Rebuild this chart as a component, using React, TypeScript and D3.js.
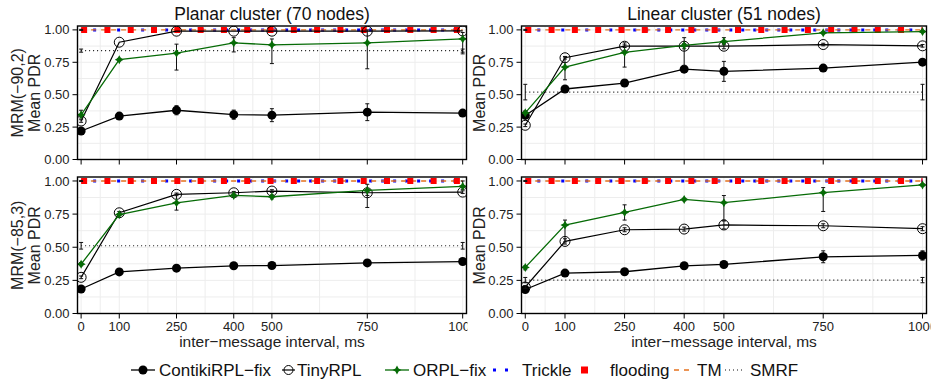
import { useEffect, useRef } from "react";
import * as d3 from "d3";

// ---- data ----
const intervals = [0, 100, 250, 400, 500, 750, 1000];
const xTicks = [0, 100, 250, 400, 500, 750, 1000];
const yTicks = [0, 0.25, 0.5, 0.75, 1];
const colTitles = ["Planar cluster (70 nodes)", "Linear cluster (51 nodes)"];
const rowLabels = ["MRM(\u221290,2)", "MRM(\u221285,3)"];
const seriesNames = ["ContikiRPL\u2212fix", "TinyRPL", "ORPL\u2212fix", "Trickle", "flooding", "TM", "SMRF"];

// planar, MRM(-90,2)
const planar90Contiki = [0.22, 0.335, 0.38, 0.346, 0.342, 0.365, 0.358];
const planar90ContikiErr = [0.01, 0.01, 0.035, 0.035, 0.05, 0.065, 0.01];
const planar90Tiny = [0.297, 0.905, 0.99, 0.99, 0.99, 0.99, 0.992];
const planar90TinyErr = [0.01, 0, 0, 0, 0, 0, 0];
const planar90Orpl = [0.345, 0.77, 0.82, 0.9, 0.885, 0.9, 0.93];
const planar90OrplLo = [0.32, 0.76, 0.69, 0.83, 0.74, 0.7, 0.815];
const planar90OrplHi = [0.38, 0.78, 0.89, 0.94, 0.93, 1.0, 0.98];

// linear, MRM(-90,2)
const linear90Contiki = [0.34, 0.544, 0.59, 0.697, 0.68, 0.705, 0.751];
const linear90ContikiErr = [0.01, 0.01, 0.01, 0.025, 0.077, 0.025, 0.02];
const linear90Tiny = [0.264, 0.785, 0.874, 0.874, 0.874, 0.887, 0.877];
const linear90TinyErr = [0.01, 0.01, 0.01, 0.02, 0.02, 0.01, 0.01];
const linear90Orpl = [0.36, 0.713, 0.826, 0.88, 0.91, 0.977, 0.987];
const linear90OrplLo = [0.345, 0.615, 0.713, 0.726, 0.885, 0.97, 0.98];
const linear90OrplHi = [0.375, 0.79, 0.9, 0.94, 0.94, 0.985, 0.995];

// planar, MRM(-85,3)
const planar85Contiki = [0.185, 0.314, 0.342, 0.36, 0.362, 0.382, 0.392];
const planar85ContikiErr = [0.01, 0.01, 0.01, 0.01, 0.01, 0.01, 0.01];
const planar85Tiny = [0.273, 0.76, 0.899, 0.911, 0.924, 0.911, 0.916];
const planar85TinyErr = [0.01, 0.01, 0.01, 0.01, 0.01, 0.02, 0.01];
const planar85Orpl = [0.372, 0.747, 0.835, 0.891, 0.881, 0.929, 0.96];
const planar85OrplLo = [0.36, 0.74, 0.78, 0.88, 0.865, 0.8, 0.937];
const planar85OrplHi = [0.385, 0.755, 0.9, 0.9, 0.895, 0.975, 1.0];

// linear, MRM(-85,3)
const linear85Contiki = [0.181, 0.305, 0.315, 0.36, 0.37, 0.428, 0.438];
const linear85ContikiErr = [0.01, 0.01, 0.01, 0.01, 0.01, 0.045, 0.035];
const linear85Tiny = [0.2, 0.544, 0.632, 0.637, 0.668, 0.662, 0.64];
const linear85TinyErr = [0.01, 0.02, 0.015, 0.015, 0.03, 0.015, 0.015];
const linear85Orpl = [0.348, 0.667, 0.763, 0.861, 0.836, 0.912, 0.97];
const linear85OrplLo = [0.33, 0.54, 0.705, 0.85, 0.705, 0.77, 0.96];
const linear85OrplHi = [0.36, 0.705, 0.82, 0.87, 0.89, 0.95, 0.98];

// flat reference protocols, one value per panel (TL, TR, BL, BR)
const trickleLevel = [1, 1, 1, 1];
const floodingLevel = [1, 1, 1, 1];
const tmLevel = [1, 1, 1, 1];
const smrfLevel = [0.84, 0.52, 0.511, 0.252];
const smrfErr = [0.012, 0.06, 0.025, 0.02];

const FONT = "'Liberation Sans', Arial, Helvetica, sans-serif";
const GREEN = "#066b06";
const ORANGE = "#e6731f";

export default function App ()
{
    const svgRef = useRef<SVGSVGElement>( null );

    useEffect( () =>
    {
        if ( !svgRef.current ) return;
        const svg = d3.select( svgRef.current );
        svg.selectAll( "*" ).remove();

        const cols = [ { x0: 77.5, x1: 466.5 }, { x0: 521.5, x1: 926.5 } ];
        const rows = [ { y0: 26, y1: 159.5 }, { y0: 177, y1: 313.5 } ];

        const panels = [
            { col: 0, row: 0, contiki: planar90Contiki, contikiErr: planar90ContikiErr, tiny: planar90Tiny, tinyErr: planar90TinyErr, orpl: planar90Orpl, lo: planar90OrplLo, hi: planar90OrplHi },
            { col: 1, row: 0, contiki: linear90Contiki, contikiErr: linear90ContikiErr, tiny: linear90Tiny, tinyErr: linear90TinyErr, orpl: linear90Orpl, lo: linear90OrplLo, hi: linear90OrplHi },
            { col: 0, row: 1, contiki: planar85Contiki, contikiErr: planar85ContikiErr, tiny: planar85Tiny, tinyErr: planar85TinyErr, orpl: planar85Orpl, lo: planar85OrplLo, hi: planar85OrplHi },
            { col: 1, row: 1, contiki: linear85Contiki, contikiErr: linear85ContikiErr, tiny: linear85Tiny, tinyErr: linear85TinyErr, orpl: linear85Orpl, lo: linear85OrplLo, hi: linear85OrplHi },
        ];

        const defs = svg.append( "defs" );
        const star = ( r: number ) =>
        {
            const i = r * 0.36;
            return `M0,${ -r }L${ i },${ -i }L${ r },0L${ i },${ i }L0,${ r }L${ -i },${ i }L${ -r },0L${ -i },${ -i }Z`;
        };

        panels.forEach( ( p, pi ) =>
        {
            const c = cols[ p.col ], r = rows[ p.row ];
            const x = d3.scaleLinear().domain( [ -9.5, 1010 ] ).range( [ c.x0, c.x1 ] );
            const y = d3.scaleLinear().domain( [ 0, 1.03 ] ).range( [ r.y1, r.y0 ] );
            const g = svg.append( "g" );

            const clipId = `clip${ pi }`;
            defs.append( "clipPath" ).attr( "id", clipId ).append( "rect" )
                .attr( "x", c.x0 ).attr( "y", r.y0 ).attr( "width", c.x1 - c.x0 ).attr( "height", r.y1 - r.y0 );

            // grid
            const minorX = d3.pairs( xTicks ).map( ( [ a, b ] ) => ( a + b ) / 2 );
            const minorY = d3.pairs( yTicks ).map( ( [ a, b ] ) => ( a + b ) / 2 );
            const grid = g.append( "g" ).attr( "stroke", "#ededed" ).attr( "stroke-width", 1 );
            grid.selectAll( "line.vx" ).data( [ ...xTicks, ...minorX ] ).join( "line" )
                .attr( "x1", ( d ) => x( d ) ).attr( "x2", ( d ) => x( d ) ).attr( "y1", r.y0 ).attr( "y2", r.y1 );
            grid.selectAll( "line.hy" ).data( [ ...yTicks, ...minorY ] ).join( "line" )
                .attr( "class", "hy" )
                .attr( "x1", c.x0 ).attr( "x2", c.x1 ).attr( "y1", ( d ) => y( d ) ).attr( "y2", ( d ) => y( d ) );

            const plot = g.append( "g" ).attr( "clip-path", `url(#${ clipId })` );

            const flat = ( v: number, stroke: string, w: number, dash: string ) =>
                plot.append( "line" ).attr( "x1", x( 0 ) ).attr( "x2", x( 1000 ) ).attr( "y1", y( v ) ).attr( "y2", y( v ) )
                    .attr( "stroke", stroke ).attr( "stroke-width", w ).attr( "stroke-dasharray", dash ).attr( "stroke-linecap", "butt" );

            const errBar = ( xv: number, lo: number, hi: number ) =>
            {
                const e = plot.append( "g" ).attr( "stroke", "#111" ).attr( "stroke-width", 1 );
                e.append( "line" ).attr( "x1", x( xv ) ).attr( "x2", x( xv ) ).attr( "y1", y( lo ) ).attr( "y2", y( hi ) );
                e.append( "line" ).attr( "x1", x( xv ) - 2 ).attr( "x2", x( xv ) + 2 ).attr( "y1", y( lo ) ).attr( "y2", y( lo ) );
                e.append( "line" ).attr( "x1", x( xv ) - 2 ).attr( "x2", x( xv ) + 2 ).attr( "y1", y( hi ) ).attr( "y2", y( hi ) );
            };

            // flat protocols
            flat( trickleLevel[ pi ], "#0000ff", 3, "3,9" );
            flat( tmLevel[ pi ], ORANGE, 1.3, "5,5" );
            flat( floodingLevel[ pi ], "#ff0000", 6, "6,17.3" );
            errBar( 0, tmLevel[ pi ] - 0.004, tmLevel[ pi ] + 0.004 );
            flat( smrfLevel[ pi ], "#111", 1.1, "1,3" );
            errBar( 0, smrfLevel[ pi ] - smrfErr[ pi ], smrfLevel[ pi ] + smrfErr[ pi ] );
            errBar( 1000, smrfLevel[ pi ] - smrfErr[ pi ], smrfLevel[ pi ] + smrfErr[ pi ] );

            const line = d3.line<number>().x( ( _, i ) => x( intervals[ i ] ) ).y( ( d ) => y( d ) );

            // ContikiRPL-fix
            plot.append( "path" ).datum( p.contiki ).attr( "d", line ).attr( "fill", "none" ).attr( "stroke", "#000" ).attr( "stroke-width", 1.3 );
            p.contiki.forEach( ( v, i ) => { if ( p.contikiErr[ i ] > 0 ) errBar( intervals[ i ], v - p.contikiErr[ i ], v + p.contikiErr[ i ] ); } );
            plot.append( "g" ).selectAll( "circle" ).data( p.contiki ).join( "circle" )
                .attr( "cx", ( _, i ) => x( intervals[ i ] ) ).attr( "cy", ( d ) => y( d ) ).attr( "r", 4.5 ).attr( "fill", "#000" );

            // TinyRPL
            plot.append( "path" ).datum( p.tiny ).attr( "d", line ).attr( "fill", "none" ).attr( "stroke", "#000" ).attr( "stroke-width", 1.2 );
            p.tiny.forEach( ( v, i ) => { if ( p.tinyErr[ i ] > 0 ) errBar( intervals[ i ], v - p.tinyErr[ i ], v + p.tinyErr[ i ] ); } );
            plot.append( "g" ).selectAll( "circle" ).data( p.tiny ).join( "circle" )
                .attr( "cx", ( _, i ) => x( intervals[ i ] ) ).attr( "cy", ( d ) => y( d ) ).attr( "r", 5 )
                .attr( "fill", "none" ).attr( "stroke", "#000" ).attr( "stroke-width", 1 );

            // ORPL-fix
            plot.append( "path" ).datum( p.orpl ).attr( "d", line ).attr( "fill", "none" ).attr( "stroke", GREEN ).attr( "stroke-width", 1.3 );
            p.orpl.forEach( ( _, i ) => errBar( intervals[ i ], p.lo[ i ], p.hi[ i ] ) );
            plot.append( "g" ).selectAll( "path" ).data( p.orpl ).join( "path" )
                .attr( "d", star( 4.5 ) ).attr( "fill", GREEN )
                .attr( "transform", ( d, i ) => `translate(${ x( intervals[ i ] ) },${ y( d ) })` );

            // frame
            g.append( "rect" ).attr( "x", c.x0 ).attr( "y", r.y0 ).attr( "width", c.x1 - c.x0 ).attr( "height", r.y1 - r.y0 )
                .attr( "fill", "none" ).attr( "stroke", "#000" ).attr( "stroke-width", 1.4 );

            // y axis
            const ya = g.append( "g" );
            ya.selectAll( "line" ).data( yTicks ).join( "line" )
                .attr( "x1", c.x0 - 5 ).attr( "x2", c.x0 ).attr( "y1", ( d ) => y( d ) ).attr( "y2", ( d ) => y( d ) )
                .attr( "stroke", "#000" ).attr( "stroke-width", 1 );
            ya.selectAll( "text" ).data( yTicks ).join( "text" )
                .attr( "x", c.x0 - 8 ).attr( "y", ( d ) => y( d ) ).attr( "dy", "0.35em" ).attr( "text-anchor", "end" )
                .attr( "fill", "#222" ).style( "font-size", "13px" ).style( "font-family", FONT )
                .text( ( d ) => d3.format( ".2f" )( d ) );

            // x axis
            const xa = g.append( "g" );
            xa.selectAll( "line" ).data( xTicks ).join( "line" )
                .attr( "x1", ( d ) => x( d ) ).attr( "x2", ( d ) => x( d ) ).attr( "y1", r.y1 ).attr( "y2", r.y1 + 5 )
                .attr( "stroke", "#000" ).attr( "stroke-width", 1 );

            if ( p.row === 1 )
            {
                // labels are clipped at the panel edge, as in the original ("100")
                const lblClip = `lclip${ pi }`;
                defs.append( "clipPath" ).attr( "id", lblClip ).append( "rect" )
                    .attr( "x", c.x0 - 20 ).attr( "y", r.y1 ).attr( "width", c.x1 - c.x0 + 20 + ( p.col === 0 ? 1 : 4 ) ).attr( "height", 30 );
                xa.append( "g" ).attr( "clip-path", `url(#${ lblClip })` )
                    .selectAll( "text" ).data( xTicks ).join( "text" )
                    .attr( "x", ( d ) => x( d ) ).attr( "y", r.y1 + 17.5 ).attr( "text-anchor", "middle" )
                    .attr( "fill", "#222" ).style( "font-size", "13px" ).style( "font-family", FONT )
                    .text( ( d ) => String( d ) );
                g.append( "text" ).attr( "x", ( c.x0 + c.x1 ) / 2 ).attr( "y", r.y1 + 33.5 ).attr( "text-anchor", "middle" )
                    .attr( "fill", "#222" ).style( "font-size", "15.5px" ).style( "font-family", FONT )
                    .text( "inter\u2212message interval, ms" );
            }
            else
            {
                g.append( "text" ).attr( "x", ( c.x0 + c.x1 ) / 2 ).attr( "y", 20 ).attr( "text-anchor", "middle" )
                    .attr( "fill", "#111" ).style( "font-size", "17.5px" ).style( "font-family", FONT )
                    .text( colTitles[ p.col ] );
            }

            // y label
            const cy = ( r.y0 + r.y1 ) / 2;
            const yl = ( tx: number, txt: string ) =>
                g.append( "text" ).attr( "transform", `translate(${ tx },${ cy }) rotate(-90)` ).attr( "text-anchor", "middle" )
                    .attr( "fill", "#222" ).style( "font-size", "16px" ).style( "font-family", FONT ).text( txt );
            if ( p.col === 0 )
            {
                yl( 23, rowLabels[ p.row ] );
                yl( 39.5, "Mean PDR" );
            }
            else
            {
                yl( c.x0 - 37, "Mean PDR" );
            }
        } );

        // legend
        const lg = svg.append( "g" ).style( "font-family", FONT ).style( "font-size", "17px" );
        const ly = 370;
        const entryX = [ 131, 282, 385, 493, 581, 674, 725 ];
        const textX = [ 159, 297, 413, 522, 610, 697, 750 ];
        // ContikiRPL
        lg.append( "line" ).attr( "x1", entryX[ 0 ] ).attr( "x2", entryX[ 0 ] + 24 ).attr( "y1", ly ).attr( "y2", ly ).attr( "stroke", "#000" ).attr( "stroke-width", 1.3 );
        lg.append( "circle" ).attr( "cx", entryX[ 0 ] + 12 ).attr( "cy", ly ).attr( "r", 4.5 ).attr( "fill", "#000" );
        // TinyRPL
        lg.append( "line" ).attr( "x1", entryX[ 1 ] ).attr( "x2", entryX[ 1 ] + 13 ).attr( "y1", ly ).attr( "y2", ly ).attr( "stroke", "#000" ).attr( "stroke-width", 1.2 );
        lg.append( "circle" ).attr( "cx", entryX[ 1 ] + 6.5 ).attr( "cy", ly ).attr( "r", 4.5 ).attr( "fill", "none" ).attr( "stroke", "#000" );
        // ORPL
        lg.append( "line" ).attr( "x1", entryX[ 2 ] ).attr( "x2", entryX[ 2 ] + 24 ).attr( "y1", ly ).attr( "y2", ly ).attr( "stroke", GREEN ).attr( "stroke-width", 1.3 );
        lg.append( "path" ).attr( "d", star( 4.5 ) ).attr( "fill", GREEN ).attr( "transform", `translate(${ entryX[ 2 ] + 12 },${ ly })` );
        // Trickle
        lg.append( "line" ).attr( "x1", entryX[ 3 ] ).attr( "x2", entryX[ 3 ] + 19 ).attr( "y1", ly ).attr( "y2", ly )
            .attr( "stroke", "#0000ff" ).attr( "stroke-width", 3 ).attr( "stroke-dasharray", "3,9" );
        // flooding
        lg.append( "rect" ).attr( "x", entryX[ 4 ] ).attr( "y", ly - 3.5 ).attr( "width", 7 ).attr( "height", 7 ).attr( "fill", "#ff0000" );
        // TM
        lg.append( "line" ).attr( "x1", entryX[ 5 ] ).attr( "x2", entryX[ 5 ] + 19 ).attr( "y1", ly ).attr( "y2", ly )
            .attr( "stroke", ORANGE ).attr( "stroke-width", 1.3 ).attr( "stroke-dasharray", "5,5" );
        // SMRF
        lg.append( "line" ).attr( "x1", entryX[ 6 ] ).attr( "x2", entryX[ 6 ] + 20 ).attr( "y1", ly ).attr( "y2", ly )
            .attr( "stroke", "#111" ).attr( "stroke-width", 1.1 ).attr( "stroke-dasharray", "1,3" );
        lg.selectAll( "text" ).data( seriesNames ).join( "text" )
            .attr( "x", ( _, i ) => textX[ i ] ).attr( "y", ly ).attr( "dy", "0.36em" ).attr( "fill", "#111" )
            .text( ( d ) => d );
    }, [] );

    return (
        <div style={ { position: "absolute", left: 0, top: 0, background: "#fff" } }>
            <svg ref={ svgRef } width={ 932 } height={ 383 } />
        </div>
    );
}
